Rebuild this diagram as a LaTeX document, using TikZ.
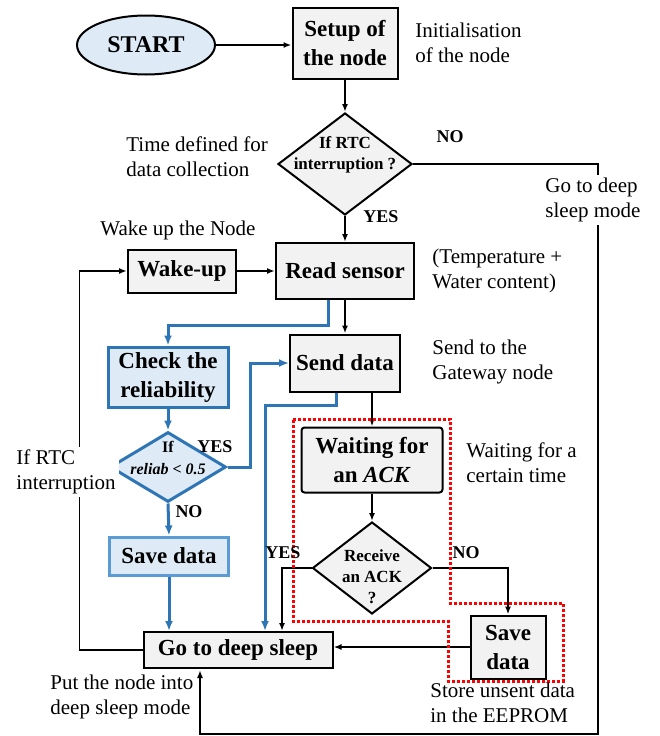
\documentclass[tikz,border=0pt]{standalone}
\usepackage{fontspec}
\setmainfont{Liberation Serif}
\usetikzlibrary{shapes.geometric,arrows.meta}

\definecolor{boxgray}{HTML}{F2F2F2}
\definecolor{paleblue}{HTML}{DEEBF7}
\definecolor{lineblue}{HTML}{2E75B6}
\definecolor{softblue}{HTML}{5B9BD5}

\tikzset{every picture/.style={line width=0.75pt}}
\tikzset{
  procbox/.style={draw=black, fill=boxgray, line width=2pt, inner sep=0pt, align=center, font=\fontsize{23}{29}\selectfont\bfseries},
  bluebox/.style={procbox, draw=lineblue, fill=paleblue, line width=3pt},
  startnode/.style={ellipse, draw=black, fill=paleblue, line width=2pt, inner sep=0pt, font=\fontsize{24}{29}\selectfont\bfseries},
  decision/.style={diamond, draw=black, fill=boxgray, line width=2pt, inner sep=0pt},
  dtext/.style={align=center, inner sep=0pt, font=\fontsize{17}{21}\selectfont\bfseries},
  note/.style={align=left, inner sep=0pt, font=\fontsize{21}{25}\selectfont},
  yesno/.style={inner sep=0pt, font=\fontsize{18}{22}\selectfont\bfseries},
  conn/.style={-{Latex[length=8pt,width=6pt]}, line width=1.7pt},
  blueconn/.style={-{Latex[length=10pt,width=8pt]}, draw=lineblue, line width=3pt},
  ackzone/.style={draw=red, line width=3pt, dotted}
}

\begin{document}
\begin{tikzpicture}[x=1pt,y=1pt,yscale=-1,xscale=1]
    \useasboundingbox (0,0) rectangle (660,736);

    % Main flow
    \node[startnode, minimum width=138pt, minimum height=59pt] (start) at (146,45) {START};
    \node[procbox, minimum width=105pt, minimum height=71pt] (setup) at (345,43) {Setup of\\the node};
    \node[decision, minimum width=134pt, minimum height=102pt] (rtc) at (345,164) {};
    \node[dtext] (rtctxt) at (345,155) {If RTC\\interruption ?};
    \node[procbox, minimum width=108pt, minimum height=43pt] (wake) at (182,271) {Wake-up};
    \node[procbox, minimum width=138pt, minimum height=56pt] (read) at (345,271) {Read sensor};
    \node[procbox, minimum width=110pt, minimum height=57pt] (send) at (345,363) {Send data};
    \node[procbox, rounded corners=3pt, minimum width=141pt, minimum height=65pt] (wait) at (372,460) {Waiting for\\an \textit{ACK}};
    \node[decision, minimum width=119pt, minimum height=92pt] (ack) at (372,568) {};
    \node[dtext] (acktxt) at (372,577) {Receive\\an ACK\\?};
    \node[procbox, minimum width=75pt, minimum height=63pt] (store) at (508,647) {Save\\data};
    \node[procbox, minimum width=189pt, minimum height=36pt] (sleep) at (238,650) {Go to deep sleep};

    % Reliability branch
    \node[bluebox, minimum width=120pt, minimum height=60pt] (check) at (168,377) {Check the\\reliability};
    \node[decision, draw=lineblue, fill=paleblue, line width=3pt, minimum width=116pt, minimum height=70pt] (rel) at (168,467) {};
    \node[dtext, font=\fontsize{16}{22}\selectfont\bfseries] (reltxt) at (168,458) {If\\\textit{reliab} < \textit{0.5}};
    \node[bluebox, draw=softblue, minimum width=119pt, minimum height=38pt] (save) at (169,556) {Save data};

    \coordinate (rb) at (328,325);
    \coordinate (sb) at (265,405);
    \coordinate (loopR) at (598,734);
    \coordinate (loopL) at (200,734);

    % Connectors
    \draw[conn] (start.east) -- (setup.west |- start.east);
    \draw[conn] (setup.south) -- (rtc.north);
    \draw[conn] (rtc.south) -- (read.north);
    \draw[conn] (wake.east) -- (read.west);
    \draw[conn] (read.south) -- (send.north);
    \draw[conn] (wait.north |- send.south) -- (wait.north);
    \draw[conn] (wait.south) -- (ack.north);
    \draw[conn] (ack.west) -| ([xshift=44]sleep.north);
    \draw[conn] (ack.east) -| (store.north);
    \draw[conn] (store.west) -- (store.west -| sleep.east);
    \draw[conn] (sleep.west) -- ++(-63,0) |- (wake.west);
    \draw[conn] (rtc.east) -| (loopR) -- (loopL) -- ([yshift=1]loopL |- sleep.south);

    \draw[blueconn] (rb |- read.south) -- (rb) -| (check.north);
    \draw[blueconn] (check.south) -- (rel.north);
    \draw[blueconn] (rel.east) -- ++(23,0) |- (send.west);
    \draw[blueconn] (rel.south) -- (save.north);
    \draw[blueconn] (save.south) -- (save.south |- sleep.north);
    \draw[blueconn] ([xshift=-9]send.south) |- (sb) -- (sb |- sleep.north);

    % Region of the ACK wait
    \draw[ackzone] (293,419) -- (450,419) -- (450,603) -- (563,603) -- (563,681) -- (448,681) -- (448,621) -- (293,621) -- cycle;

    % Branch labels
    \node[yesno] (rtcno) at (450,137) {NO};
    \node[yesno] (rtcyes) at (381,217) {YES};
    \node[yesno] (relyes) at (215,447) {YES};
    \node[yesno] (relno) at (189,512) {NO};
    \node[yesno] (ackyes) at (283,553) {YES};
    \node[yesno] (ackno) at (466,553) {NO};

    % Text Node
    \node[note, anchor=west] (initnote) at (415,43) {Initialisation\\of the node};
    \node[note, anchor=west] (timenote) at (126,157) {Time defined for\\data collection};
    \node[note, anchor=west] (wakenote) at (100,230) {Wake up the Node};
    \node[note, anchor=west] (readnote) at (432,271) {(Temperature +\\Water content)};
    \node[note, anchor=west] (sendnote) at (432,362) {Send to the\\Gateway node};
    \node[note, anchor=west] (waitnote) at (466,463) {Waiting for a\\certain time};
    \node[note, anchor=west] (storenote) at (430,703) {Store unsent data\\in the EEPROM};
    \node[note, anchor=west] (sleepnote) at (50,697) {Put the node into\\deep sleep mode};
    \node[note, fill=white, inner sep=3pt] (rtcnote) at (66,472) {If RTC\\interruption};
    \node[note, fill=white, inner sep=3pt] (deepnote) at (593,200) {Go to deep\\sleep mode};
\end{tikzpicture}
\end{document}
